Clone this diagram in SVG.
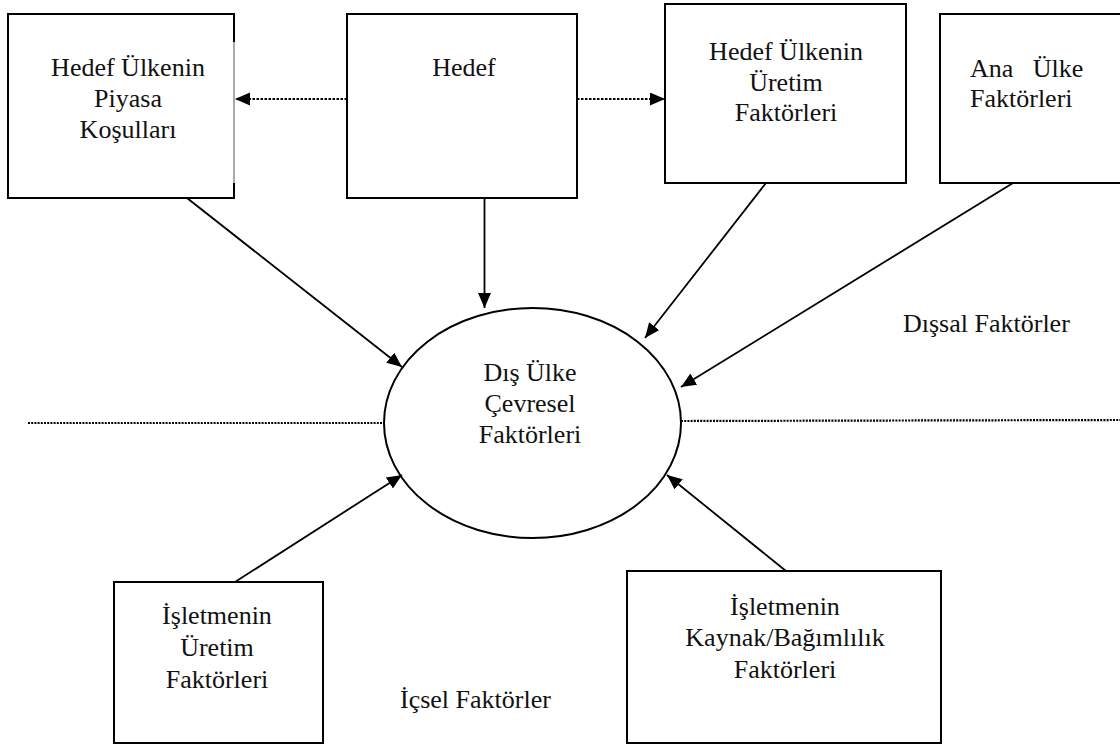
<svg xmlns="http://www.w3.org/2000/svg" width="1120" height="747" viewBox="0 0 1120 747">
  <style>
    .box { fill: #ffffff; stroke: #000000; stroke-width: 2; }
    .lbl { font-size: 26px; fill: #111111; }
    .mid { text-anchor: middle; }
    .arrow { stroke: #000000; stroke-width: 1.8; fill: none; marker-end: url(#head); }
    .dotarrow { stroke: #000000; stroke-width: 2.2; stroke-dasharray: 2.5 1.5; fill: none; marker-end: url(#head); }
    .divider { stroke: #000000; stroke-width: 2.2; stroke-dasharray: 2 1.2; fill: none; }
  </style>
  <defs>
    <marker id="head" markerUnits="userSpaceOnUse" markerWidth="16" markerHeight="14" refX="15" refY="6.5" orient="auto">
      <path d="M0,0 L15,6.5 L0,13 z" fill="#000000"/>
    </marker>
  </defs>
  <rect width="1120" height="747" fill="#ffffff"/>

  <!-- dotted divider between external and internal factors -->
  <g id="dividers">
    <line class="divider" x1="28" y1="423" x2="384" y2="423"/>
    <line class="divider" x1="681" y1="421" x2="1120" y2="420"/>
  </g>

  <g font-family="'Liberation Serif', 'DejaVu Serif', serif">
  <g id="piyasa">
    <path class="box" d="M234,42 L234,14 L8,14 L8,198 L234,198 L234,183"/>
    <line x1="234" y1="42" x2="234" y2="183" stroke="#555555" stroke-width="1"/>
    <text class="lbl mid" x="128" y="76">Hedef Ülkenin</text>
    <text class="lbl mid" x="128" y="107">Piyasa</text>
    <text class="lbl mid" x="128" y="138">Koşulları</text>
  </g>

  <g id="hedef">
    <rect class="box" x="347" y="14" width="230" height="184"/>
    <text class="lbl mid" x="464" y="76">Hedef</text>
  </g>

  <g id="uretim-hedef">
    <rect class="box" x="665" y="4" width="241" height="179"/>
    <text class="lbl mid" x="786" y="60">Hedef Ülkenin</text>
    <text class="lbl mid" x="786" y="91">Üretim</text>
    <text class="lbl mid" x="786" y="121">Faktörleri</text>
  </g>

  <g id="ana-ulke">
    <rect class="box" x="940" y="14" width="190" height="169"/>
    <text class="lbl" x="970" y="77" xml:space="preserve">Ana   Ülke</text>
    <text class="lbl" x="970" y="107">Faktörleri</text>
  </g>

  <g id="dis-ulke">
    <ellipse class="box" cx="532.5" cy="423" rx="148.5" ry="115"/>
    <text class="lbl mid" x="530" y="381">Dış Ülke</text>
    <text class="lbl mid" x="530" y="412">Çevresel</text>
    <text class="lbl mid" x="530" y="443">Faktörleri</text>
  </g>

  <g id="isletme-uretim">
    <rect class="box" x="114" y="582" width="209" height="161"/>
    <text class="lbl mid" x="217" y="624">İşletmenin</text>
    <text class="lbl mid" x="217" y="656">Üretim</text>
    <text class="lbl mid" x="217" y="688">Faktörleri</text>
  </g>

  <g id="isletme-kaynak">
    <rect class="box" x="627" y="571" width="314" height="172"/>
    <text class="lbl mid" x="785" y="615">İşletmenin</text>
    <text class="lbl mid" x="785" y="646">Kaynak/Bağımlılık</text>
    <text class="lbl mid" x="785" y="678">Faktörleri</text>
  </g>

  <g id="region-labels">
    <text class="lbl" x="903" y="332">Dışsal Faktörler</text>
    <text class="lbl" x="400" y="708">İçsel Faktörler</text>
  </g>
  </g>

  <g id="connectors">
    <line class="dotarrow" x1="347" y1="99" x2="235" y2="99"/>
    <line class="dotarrow" x1="577" y1="99" x2="665" y2="99"/>
    <line class="arrow" x1="187" y1="198" x2="402" y2="367"/>
    <line class="arrow" x1="484.5" y1="198" x2="484.5" y2="308"/>
    <line class="arrow" x1="766" y1="183" x2="645" y2="338"/>
    <line class="arrow" x1="1013" y1="183" x2="681" y2="387"/>
    <line class="arrow" x1="235" y1="582" x2="402" y2="475"/>
    <line class="arrow" x1="786" y1="571" x2="667" y2="475"/>
  </g>
</svg>
